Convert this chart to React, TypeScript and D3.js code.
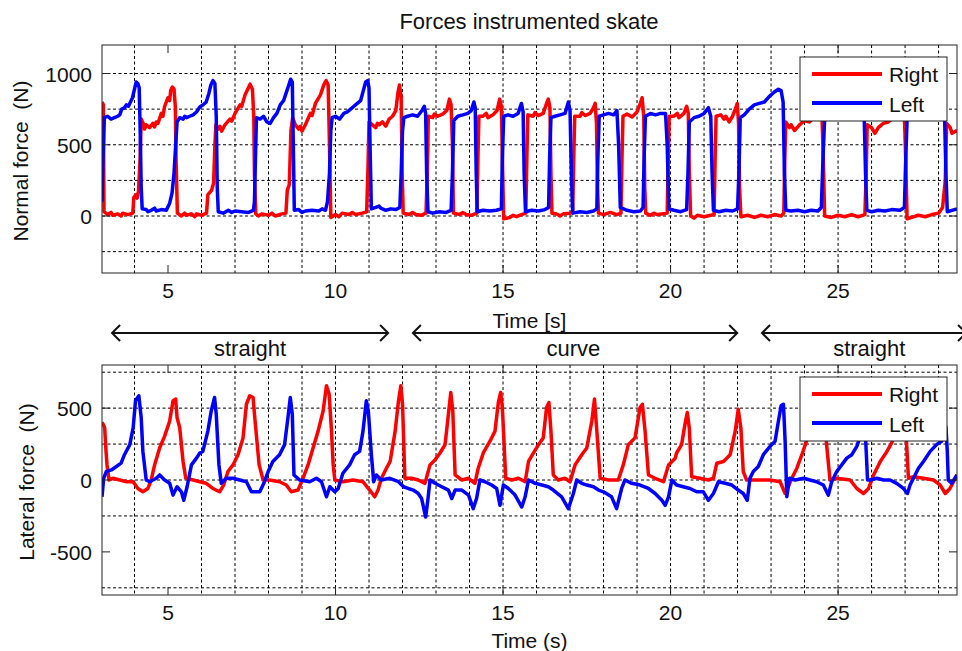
import React from "react";
import * as d3 from "d3";

// ---------- data ----------
const xTicks = [5, 10, 15, 20, 25];
const gridX = [4, 6, 7, 8, 9, 10, 11, 12, 13, 14, 15, 16, 17, 18, 19, 20, 21, 22, 23, 24, 25, 26, 27, 28];
const topYTicks = [0, 500, 1000];
const topGridY = [-250, 0, 250, 500, 750, 1000];
const bottomYTicks = [-500, 0, 500];
const bottomGridY = [-750, -250, 0, 250, 500, 750];
const seriesNames = ["Right", "Left"];
const seriesColors = ["#ff0000", "#0000ff"];

const phases = [
  { label: "straight", from: 3.33, to: 11.57, mid: 7.45 },
  { label: "curve", from: 12.31, to: 21.99, mid: 17.1 },
  { label: "straight", from: 22.73, to: 28.82, mid: 25.93 },
];

// Normal force, right skate
const normalRight: [number, number][] = [
  [3.03, 800], [3.07, 780], [3.09, 30], [3.2, 10], [3.3, 25], [3.35, 5], [3.5, 15], [3.6, 0], [3.65, 20], [3.8, 10], [3.95, 20],
  [3.98, 130], [4.05, 150], [4.08, 125], [4.12, 175], [4.17, 420], [4.2, 680], [4.26, 650], [4.3, 610], [4.35, 640], [4.45, 620],
  [4.55, 650], [4.6, 625], [4.65, 660], [4.7, 650], [4.8, 720], [4.85, 700], [4.9, 770], [5.0, 830], [5.05, 810], [5.08, 880], [5.13, 905],
  [5.18, 890], [5.22, 760], [5.24, 400], [5.28, 20], [5.4, 0], [5.5, 20], [5.55, 5], [5.7, 15], [5.8, -5], [5.85, 15], [6.0, 5],
  [6.15, 20], [6.19, 150], [6.3, 180], [6.36, 230], [6.4, 500], [6.43, 640], [6.5, 610], [6.55, 630], [6.6, 595],
  [6.7, 640], [6.85, 680], [6.9, 665], [7.0, 720], [7.15, 780], [7.2, 770], [7.3, 850], [7.4, 900], [7.45, 925], [7.52, 890],
  [7.56, 700], [7.58, 300], [7.62, 15], [7.7, 0], [7.8, 15], [8.0, 5], [8.1, 20], [8.2, 0], [8.4, 15], [8.52, 20], [8.56, 180],
  [8.62, 220], [8.67, 600], [8.72, 690], [8.8, 640], [8.9, 610], [8.95, 630], [9.0, 595], [9.1, 640], [9.25, 720], [9.3, 705],
  [9.4, 790], [9.55, 850], [9.65, 920], [9.72, 950], [9.78, 920], [9.82, 500], [9.86, -10], [10.0, 10],
  [10.1, -5], [10.2, 20], [10.4, 10], [10.5, 25], [10.6, 10], [10.8, 20], [10.93, 30], [10.97, 350], [11.0, 660], [11.1, 640],
  [11.2, 620], [11.25, 650], [11.3, 640], [11.4, 660], [11.5, 630], [11.6, 680], [11.7, 700], [11.8, 740], [11.86, 860],
  [11.91, 920], [11.96, 830], [11.99, 300], [12.02, 20], [12.2, 10], [12.3, 25], [12.4, 10], [12.55, 5], [12.7, 20],
  [12.74, 300], [12.77, 700], [12.9, 690], [12.95, 715], [13.05, 700], [13.2, 715], [13.32, 740], [13.4, 820],
  [13.45, 780], [13.49, 500], [13.52, 20], [13.7, 10], [13.8, 25], [13.9, 10], [14.05, 5], [14.22, 20], [14.25, 400],
  [14.28, 700], [14.4, 700], [14.5, 720], [14.55, 690], [14.7, 710], [14.82, 740], [14.9, 820], [14.95, 770],
  [14.99, 300], [15.02, -20], [15.2, -10], [15.3, 5], [15.4, -5], [15.55, 10], [15.68, 20], [15.71, 400], [15.74, 710],
  [15.9, 700], [15.95, 725], [16.05, 705], [16.2, 720], [16.3, 790], [16.35, 820], [16.4, 760], [16.43, 300], [16.46, 20],
  [16.6, 15], [16.7, 0], [16.8, 15], [17.0, 20], [17.08, 30], [17.11, 400], [17.14, 700], [17.3, 700], [17.35, 725], [17.45, 705],
  [17.6, 720], [17.7, 760], [17.75, 790], [17.79, 650], [17.82, 200], [17.85, 20], [18.0, 10], [18.2, 25],
  [18.4, 10], [18.52, 20], [18.55, 400], [18.58, 700], [18.7, 715], [18.85, 695], [19.0, 730], [19.1, 790],
  [19.15, 830], [19.2, 700], [19.23, 200], [19.26, 20], [19.4, 5], [19.5, 20], [19.6, 10], [19.8, 15], [19.9, 20],
  [19.93, 400], [19.96, 700], [20.1, 700], [20.2, 720], [20.25, 690], [20.4, 720], [20.48, 770], [20.53, 720],
  [20.56, 300], [20.6, 0], [20.7, -15], [20.8, 5], [21.0, -5], [21.2, 5], [21.3, 10], [21.33, 400], [21.36, 700],
  [21.5, 710], [21.6, 680], [21.65, 700], [21.75, 660], [21.85, 700], [21.95, 760], [21.99, 790], [22.03, 650],
  [22.06, 200], [22.1, -5], [22.3, 5], [22.5, -10], [22.7, 5], [22.9, -5], [23.1, 10], [23.3, 0],
  [23.38, 20], [23.41, 400], [23.44, 660], [23.55, 620], [23.6, 640], [23.7, 600], [23.85, 640], [24.0, 670],
  [24.15, 660], [24.3, 700], [24.45, 720], [24.52, 700], [24.56, 400], [24.6, 0], [24.8, -10], [25.0, 5],
  [25.2, -5], [25.4, 10], [25.6, -5], [25.8, 10], [25.84, 300], [25.87, 640], [26.0, 620], [26.1, 580],
  [26.2, 620], [26.35, 650], [26.5, 660], [26.7, 700], [26.85, 720], [26.98, 700], [27.02, 400],
  [27.06, -20], [27.2, -10], [27.4, 5], [27.6, -5], [27.8, 10], [28.0, 20], [28.12, 60], [28.2, 250],
  [28.24, 650], [28.35, 620], [28.4, 580], [28.55, 600],
];

// Normal force, left skate
const normalLeft: [number, number][] = [
  [3.03, 100], [3.06, 400], [3.1, 690], [3.2, 700], [3.3, 680], [3.4, 690], [3.5, 700], [3.56, 710],
  [3.62, 750], [3.7, 760], [3.76, 780], [3.82, 770], [3.88, 800], [3.94, 830], [4.0, 890], [4.05, 940],
  [4.1, 930], [4.14, 900], [4.17, 600], [4.2, 200], [4.23, 50], [4.35, 45], [4.4, 30], [4.5, 40], [4.6, 55], [4.65, 35],
  [4.8, 45], [4.95, 40], [5.05, 90], [5.12, 160], [5.18, 300], [5.23, 500], [5.27, 660], [5.35, 690],
  [5.45, 680], [5.5, 700], [5.55, 690], [5.65, 700], [5.75, 710], [5.85, 730], [5.95, 765], [6.05, 780], [6.14, 800],
  [6.22, 860], [6.28, 920], [6.34, 950], [6.4, 930], [6.44, 700], [6.47, 200], [6.5, 30], [6.65, 20],
  [6.8, 40], [6.9, 25], [7.0, 35], [7.2, 30], [7.4, 25], [7.55, 40], [7.58, 100], [7.61, 400], [7.64, 690], [7.75, 680],
  [7.85, 700], [7.95, 660], [8.05, 650], [8.15, 690], [8.25, 720], [8.35, 780], [8.45, 810], [8.55, 880],
  [8.62, 930], [8.66, 960], [8.71, 940], [8.74, 500], [8.77, 40], [8.9, 45], [9.0, 25], [9.1, 35], [9.3, 40],
  [9.5, 35], [9.6, 50], [9.7, 40], [9.76, 100], [9.82, 300], [9.86, 600], [9.9, 690], [10.0, 700], [10.12, 680],
  [10.25, 720], [10.35, 730], [10.45, 750], [10.55, 770], [10.65, 790], [10.75, 810], [10.83, 880],
  [10.9, 940], [10.96, 950], [11.0, 900], [11.03, 500], [11.07, 50], [11.2, 60], [11.3, 70], [11.35, 55], [11.5, 40],
  [11.65, 50], [11.8, 45], [11.92, 60], [11.96, 300], [12.0, 600], [12.04, 690], [12.15, 700], [12.3, 710],
  [12.45, 700], [12.58, 740], [12.65, 770], [12.69, 720], [12.72, 300], [12.76, 30], [12.9, 20],
  [13.1, 30], [13.3, 25], [13.45, 40], [13.49, 300], [13.53, 670], [13.65, 700], [13.8, 710], [13.95, 720],
  [14.05, 740], [14.13, 800], [14.17, 760], [14.2, 300], [14.23, 30], [14.4, 40], [14.6, 35], [14.8, 40],
  [14.95, 50], [14.98, 400], [15.02, 700], [15.15, 710], [15.3, 700], [15.45, 720], [15.55, 790],
  [15.6, 730], [15.63, 300], [15.67, 30], [15.85, 40], [16.05, 35], [16.25, 45], [16.36, 60], [16.39, 400],
  [16.43, 690], [16.55, 700], [16.7, 710], [16.85, 720], [16.95, 800], [17.0, 740], [17.04, 300],
  [17.08, 20], [17.3, 30], [17.5, 25], [17.7, 35], [17.8, 50], [17.83, 400], [17.87, 700], [18.0, 710],
  [18.15, 720], [18.3, 710], [18.4, 740], [18.45, 500], [18.5, 60], [18.7, 40], [18.9, 30], [19.1, 35],
  [19.18, 60], [19.21, 400], [19.25, 700], [19.4, 720], [19.55, 710], [19.7, 720], [19.85, 720],
  [19.9, 500], [19.95, 50], [20.1, 40], [20.3, 30], [20.48, 45], [20.52, 300], [20.56, 660], [20.7, 690],
  [20.85, 700], [21.0, 720], [21.13, 760], [21.2, 700], [21.24, 300], [21.28, 40], [21.45, 30],
  [21.65, 40], [21.85, 35], [22.0, 50], [22.04, 300], [22.08, 690], [22.2, 710], [22.35, 750], [22.5, 780],
  [22.65, 790], [22.8, 800], [22.95, 840], [23.1, 870], [23.22, 890], [23.3, 880], [23.36, 800],
  [23.4, 300], [23.44, 40], [23.6, 35], [23.8, 40], [24.0, 30], [24.2, 40], [24.4, 35], [24.5, 60],
  [24.55, 400], [24.6, 690], [24.75, 700], [24.9, 680], [25.05, 700], [25.2, 710], [25.35, 700],
  [25.5, 690], [25.65, 720], [25.78, 700], [25.82, 300], [25.86, 40], [26.0, 30], [26.2, 40], [26.4, 35],
  [26.6, 45], [26.85, 40], [26.98, 60], [27.02, 400], [27.06, 680], [27.2, 700], [27.35, 690], [27.5, 700],
  [27.65, 690], [27.8, 710], [27.95, 700], [28.1, 720], [28.18, 690], [28.22, 300], [28.26, 30],
  [28.4, 40], [28.55, 50],
];

// Lateral force, right skate
const lateralRight: [number, number][] = [
  [3.03, 400], [3.06, 390], [3.11, 363], [3.15, 200], [3.18, 105], [3.24, 0], [3.36, 12], [3.56, 0],
  [3.76, -12], [3.96, -12], [4.1, -59], [4.25, -82], [4.4, -59], [4.5, 0], [4.6, 105], [4.75, 223],
  [4.9, 305], [5.05, 410], [5.15, 551], [5.23, 563], [5.27, 434], [5.35, 363], [5.45, 129], [5.53, 12],
  [5.75, 0], [5.95, -12], [6.14, -23], [6.34, -59], [6.54, -82], [6.66, -35], [6.79, 59], [6.94, 105],
  [7.09, 176], [7.24, 293], [7.34, 527], [7.44, 586], [7.54, 574], [7.59, 434], [7.72, 105], [7.84, 0],
  [8.03, 0], [8.33, -12], [8.53, -35], [8.68, -82], [8.88, -70], [9.03, 12], [9.18, 105], [9.33, 223],
  [9.48, 340], [9.63, 480], [9.73, 656], [9.81, 598], [9.88, 340], [9.93, 105], [9.98, 0], [10.22, -12],
  [10.52, 0], [10.82, -12], [11.02, -70], [11.17, -117], [11.27, -70], [11.37, 12], [11.52, 82],
  [11.63, 129], [11.78, 340], [11.88, 551], [11.95, 656], [12.0, 527], [12.07, 12], [12.27, 12],
  [12.47, 0], [12.67, -23], [12.82, 105], [12.97, 140], [13.12, 188], [13.27, 246], [13.37, 457],
  [13.44, 609], [13.5, 480], [13.57, 35], [13.77, 0], [13.97, 12], [14.16, -23], [14.26, 82], [14.41, 188],
  [14.61, 270], [14.76, 340], [14.86, 539], [14.93, 609], [14.98, 504], [15.08, 12], [15.26, 0],
  [15.46, 12], [15.66, -12], [15.76, 129], [15.91, 188], [16.06, 246], [16.2, 293], [16.3, 504],
  [16.37, 539], [16.43, 340], [16.5, 35], [16.65, 0], [16.85, 12], [17.0, -12], [17.15, 105], [17.35, 176],
  [17.5, 223], [17.65, 410], [17.73, 563], [17.8, 340], [17.9, 12], [18.15, 0], [18.44, 0], [18.59, 105],
  [18.74, 246], [18.94, 293], [19.09, 504], [19.16, 527], [19.24, 340], [19.34, 35], [19.54, 12],
  [19.79, -12], [19.94, 105], [20.14, 152], [20.18, 188], [20.33, 246], [20.43, 387], [20.5, 469],
  [20.56, 360], [20.63, 23], [20.88, 12], [21.13, 0], [21.28, 12], [21.38, 117], [21.58, 129],
  [21.78, 176], [21.93, 340], [22.02, 492], [22.1, 360], [22.17, 59], [22.27, 0], [22.57, 0], [22.97, 0],
  [23.27, -12], [23.42, -94], [23.49, -59], [23.62, 12], [23.77, 82], [23.92, 176], [24.1, 300],
  [24.3, 420], [24.45, 530], [24.52, 560], [24.6, 450], [24.66, 240], [24.76, 0], [24.96, 12], [25.36, 0],
  [25.56, -59], [25.76, -94], [25.91, -59], [26.06, 35], [26.26, 129], [26.46, 199], [26.6, 258],
  [26.75, 350], [26.88, 480], [26.95, 540], [27.0, 450], [27.1, 12], [27.25, 23], [27.55, 12], [27.85, 0],
  [28.05, -35], [28.2, -94], [28.34, -59], [28.55, 35],
];

// Lateral force, left skate
const lateralLeft: [number, number][] = [
  [3.03, -117], [3.08, 12], [3.16, 59], [3.31, 70], [3.46, 94], [3.6, 117], [3.7, 176], [3.86, 246],
  [3.96, 363], [4.03, 551], [4.13, 586], [4.2, 434], [4.25, 199], [4.35, 0], [4.45, -12], [4.65, 12],
  [4.75, 35], [4.9, 0], [5.05, -23], [5.15, -105], [5.27, -47], [5.4, -82], [5.47, -141], [5.57, -47],
  [5.7, 105], [5.85, 152], [5.95, 188], [6.04, 199], [6.19, 340], [6.29, 480], [6.39, 574], [6.44, 457],
  [6.52, 105], [6.59, -23], [6.74, 12], [6.94, 12], [7.14, 0], [7.34, -12], [7.49, -82], [7.74, -82],
  [7.86, -23], [7.99, 59], [8.13, 129], [8.33, 176], [8.48, 246], [8.58, 434], [8.65, 574], [8.71, 457],
  [8.76, 35], [8.93, 0], [9.23, -12], [9.43, 12], [9.58, -12], [9.73, -117], [9.83, -47], [9.98, -82],
  [10.08, -59], [10.22, 47], [10.42, 105], [10.57, 176], [10.72, 199], [10.82, 340], [10.92, 551],
  [10.98, 480], [11.07, 176], [11.14, -12], [11.22, 35], [11.37, 0], [11.62, 12], [11.88, -12],
  [12.03, -47], [12.17, -59], [12.32, -70], [12.47, -94], [12.57, -129], [12.69, -258], [12.75, -152],
  [12.82, 0], [12.97, -23], [13.17, -47], [13.37, -70], [13.47, -129], [13.57, -70], [13.77, -70],
  [13.97, -105], [14.11, -199], [14.21, -129], [14.31, 0], [14.46, -12], [14.66, -35], [14.81, -59],
  [14.91, -176], [15.01, -35], [15.16, -59], [15.36, -105], [15.56, -188], [15.66, -117], [15.76, 0],
  [15.96, -23], [16.16, -35], [16.35, -47], [16.5, -70], [16.75, -117], [16.95, -199], [17.1, -94],
  [17.2, 0], [17.35, -23], [17.5, -35], [17.7, -47], [17.85, -70], [18.0, -82], [18.24, -117],
  [18.39, -199], [18.54, -59], [18.64, 0], [18.84, -23], [19.09, -35], [19.34, -59], [19.54, -94],
  [19.74, -141], [19.84, -176], [19.94, -117], [20.04, 0], [20.18, -35], [20.38, -47], [20.58, -59],
  [20.78, -82], [20.98, -82], [21.13, -141], [21.28, -94], [21.43, -12], [21.63, -23], [21.83, -35],
  [22.02, -70], [22.17, -94], [22.29, -141], [22.37, 12], [22.47, 59], [22.62, 94], [22.77, 176],
  [22.97, 234], [23.12, 270], [23.22, 410], [23.3, 516], [23.37, 527], [23.42, 270], [23.47, -117],
  [23.55, 12], [23.72, 0], [23.97, 12], [24.16, 0], [24.36, -12], [24.56, -35], [24.71, -105],
  [24.81, -12], [24.96, 59], [25.11, 105], [25.26, 152], [25.41, 176], [25.56, 234], [25.7, 330],
  [25.8, 400], [25.84, 200], [25.88, 0], [25.96, 0], [26.16, 12], [26.36, 0], [26.55, 0], [26.75, -23],
  [26.95, -59], [27.07, -94], [27.15, -35], [27.25, 12], [27.4, 82], [27.55, 129], [27.75, 199],
  [27.94, 246], [28.09, 270], [28.22, 370], [28.26, 200], [28.29, 0], [28.39, -23], [28.55, 35],
];

// ---------- layout ----------
const W = 962;
const H = 651;
const FONT = "'Liberation Sans', Arial, sans-serif";
const X0 = 102;
const X1 = 957;
const TICK = 8;

const x = d3.scaleLinear().domain([3.03, 28.55]).range([X0, X1]);

type PanelProps = {
  id: string;
  top: number;
  bottom: number;
  domain: [number, number];
  yTicks: number[];
  gridY: number[];
  series: [number, number][][];
  yLabel: string;
  yLabelX: number;
  xLabel: string;
  xLabelY: number;
  tickLabelY: number;
};

function Panel(p: PanelProps) {
  const y = d3.scaleLinear().domain(p.domain).range([p.bottom, p.top]);
  const line = d3
    .line<[number, number]>()
    .x((d) => x(d[0]))
    .y((d) => y(d[1]));
  const legX = 800;
  const legY = p.top + 12;
  return (
    <g>
      <rect x={X0} y={p.top} width={X1 - X0} height={p.bottom - p.top} fill="#fff" />
      <clipPath id={p.id}>
        <rect x={X0} y={p.top} width={X1 - X0} height={p.bottom - p.top} />
      </clipPath>
      {gridX.map((g) => (
        <line key={"gx" + g} x1={x(g)} x2={x(g)} y1={p.top} y2={p.bottom} stroke="#000" strokeWidth={1} strokeDasharray="3,2.5" />
      ))}
      {p.gridY.map((g) => (
        <line key={"gy" + g} x1={X0} x2={X1} y1={y(g)} y2={y(g)} stroke="#000" strokeWidth={1} strokeDasharray="3,2.5" />
      ))}
      <g clipPath={`url(#${p.id})`}>
        {p.series.map((s, i) => (
          <path key={i} d={line(s) || ""} fill="none" stroke={seriesColors[i]} strokeWidth={3.5} strokeLinejoin="round" />
        ))}
      </g>
      <rect x={X0} y={p.top} width={X1 - X0} height={p.bottom - p.top} fill="none" stroke="#222" strokeWidth={1} />
      {xTicks.map((t) => (
        <g key={"xt" + t}>
          <line x1={x(t)} x2={x(t)} y1={p.bottom} y2={p.bottom - TICK} stroke="#222" />
          <line x1={x(t)} x2={x(t)} y1={p.top} y2={p.top + TICK} stroke="#222" />
          <text x={x(t)} y={p.tickLabelY} textAnchor="middle" fontSize={21} fontFamily={FONT} fill="#111">
            {t}
          </text>
        </g>
      ))}
      {p.yTicks.map((t) => (
        <g key={"yt" + t}>
          <line x1={X0} x2={X0 + TICK} y1={y(t)} y2={y(t)} stroke="#222" />
          <line x1={X1} x2={X1 - TICK} y1={y(t)} y2={y(t)} stroke="#222" />
          <text x={92} y={y(t) + 8} textAnchor="end" fontSize={21} fontFamily={FONT} fill="#111">
            {t}
          </text>
        </g>
      ))}
      <text
        transform={`translate(${p.yLabelX},${(p.top + p.bottom) / 2 + 2}) rotate(-90)`}
        textAnchor="middle"
        fontSize={21}
        fontFamily={FONT}
        fill="#111"
        style={{ whiteSpace: "pre" }}
      >
        {p.yLabel}
      </text>
      <text x={(X0 + X1) / 2} y={p.xLabelY} textAnchor="middle" fontSize={21} fontFamily={FONT} fill="#111" style={{ whiteSpace: "pre" }}>
        {p.xLabel}
      </text>
      <rect x={legX} y={legY} width={147} height={64} fill="#fff" stroke="#222" strokeWidth={1} />
      {seriesNames.map((n, i) => (
        <g key={n}>
          <line x1={legX + 12} x2={legX + 82} y1={legY + 17 + i * 29} y2={legY + 17 + i * 29} stroke={seriesColors[i]} strokeWidth={4} />
          <text x={legX + 89} y={legY + 25 + i * 29.5} fontSize={21} fontFamily={FONT} fill="#111">
            {n}
          </text>
        </g>
      ))}
    </g>
  );
}

function Arrow({ from, to, yy }: { from: number; to: number; yy: number }) {
  const a = x(from);
  const b = x(to);
  return (
    <g stroke="#111" strokeWidth={2} fill="none">
      <line x1={a} x2={b} y1={yy} y2={yy} />
      <polyline points={`${a + 8},${yy - 8} ${a},${yy} ${a + 8},${yy + 8}`} />
      <polyline points={`${b - 8},${yy - 8} ${b},${yy} ${b - 8},${yy + 8}`} />
    </g>
  );
}

export default function App() {
  return (
    <svg width={W} height={H} style={{ position: "absolute", left: 0, top: 0, background: "#fff" }}>
      <rect x={0} y={0} width={W} height={H} fill="#fff" />
      <text x={529} y={29} textAnchor="middle" fontSize={22} fontFamily={FONT} fill="#111">
        Forces instrumented skate
      </text>
      <Panel
        id="clipTop"
        top={45}
        bottom={273}
        domain={[-400, 1200]}
        yTicks={topYTicks}
        gridY={topGridY}
        series={[normalRight, normalLeft]}
        yLabel={"Normal force  (N)"}
        yLabelX={28}
        xLabel="Time [s]"
        xLabelY={328}
        tickLabelY={298}
      />
      {phases.map((ph, i) => (
        <g key={i}>
          <Arrow from={ph.from} to={ph.to} yy={333} />
          <text x={x(ph.mid)} y={356} textAnchor="middle" fontSize={22} fontFamily={FONT} fill="#111">
            {ph.label}
          </text>
        </g>
      ))}
      <Panel
        id="clipBottom"
        top={365}
        bottom={595}
        domain={[-800, 800]}
        yTicks={bottomYTicks}
        gridY={bottomGridY}
        series={[lateralRight, lateralLeft]}
        yLabel={"Lateral force  (N)"}
        yLabelX={34}
        xLabel="Time (s)"
        xLabelY={648}
        tickLabelY={620}
      />
    </svg>
  );
}
